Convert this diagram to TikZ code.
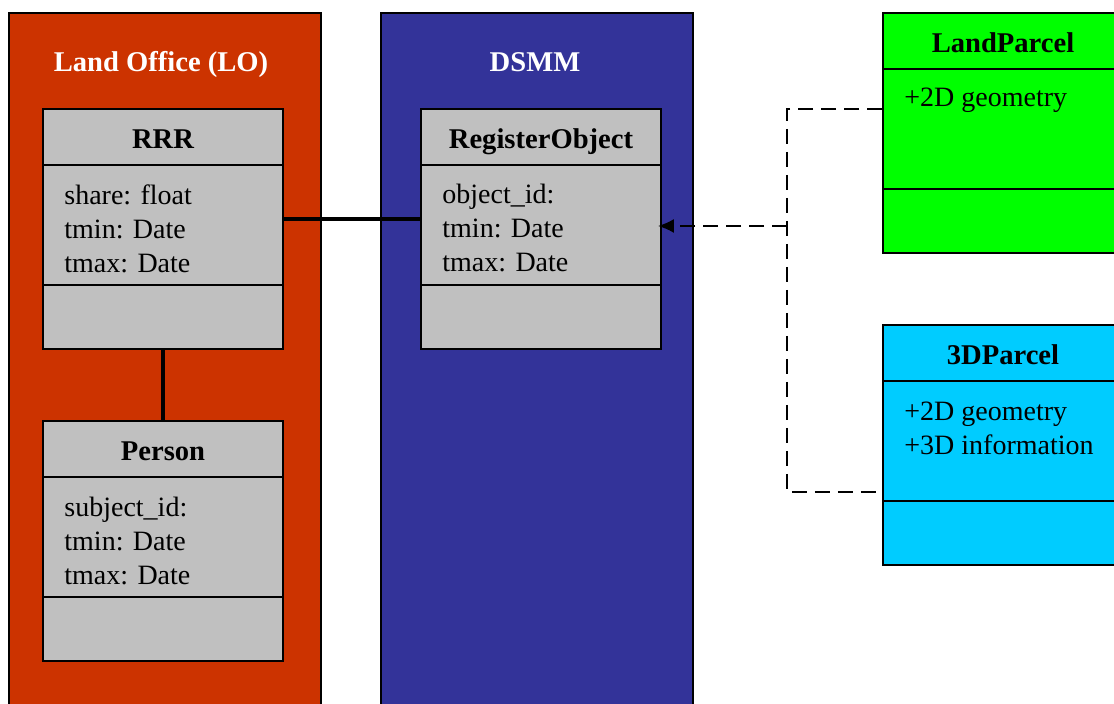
\documentclass[tikz,border=0pt]{standalone}
\usepackage{fontspec}
\setmainfont{Liberation Serif}
\usepackage{tikz}
\usetikzlibrary{arrows.meta}

\definecolor{loRed}{HTML}{CC3300}
\definecolor{dsmmBlue}{HTML}{333399}
\definecolor{umlGray}{HTML}{C0C0C0}
\definecolor{lpGreen}{HTML}{00FF00}
\definecolor{tdCyan}{HTML}{00CCFF}

\tikzset{
  pkg/.style={draw=black,line width=1pt},
  umlclass/.style={shape=rectangle,draw=black,line width=0.9pt,minimum width=120pt,minimum height=120pt,inner sep=0pt},
  cname/.style={font=\fontsize{14.3}{17}\selectfont\bfseries,inner sep=0pt,text height=0.68em,text depth=0pt,yshift=-2pt},
  attrs/.style={align=left,anchor=west,inner sep=0pt},
  assoc/.style={line width=1pt,dash pattern=on 7.5pt off 4pt},
}

\begin{document}
\begin{tikzpicture}[x=0.5pt,y=-0.5pt,font=\fontsize{14}{17}\selectfont]
\clip (0,0) rectangle (1114,704);
\fill[white] (0,0) rectangle (1114,704);
% packages
\filldraw[pkg,fill=loRed] (9,13) rectangle (321,740);
\filldraw[pkg,fill=dsmmBlue] (381,13) rectangle (693,740);
\node[cname,text=white] (lo) at (161,61) {Land Office (LO)};
\node[cname,text=white] (dsmm) at (535,61) {DSMM};

% classes
\node[umlclass,fill=umlGray] (rrr) at (163,229) {};
\node[umlclass,fill=umlGray] (person) at (163,541) {};
\node[umlclass,fill=umlGray] (regobj) at (541,229) {};
\node[umlclass,fill=lpGreen] (lp) at (1003,133) {};
\node[umlclass,fill=tdCyan] (tdp) at (1003,445) {};
\foreach \c in {rrr,person,regobj,lp,tdp}
  \draw[line width=0.9pt] ([yshift=-28.5pt]\c.north west) -- ([yshift=-28.5pt]\c.north east)
        ([yshift=-88.5pt]\c.north west) -- ([yshift=-88.5pt]\c.north east);

\node[cname] (rrrname) at (163,138) {RRR};
\node[cname] (personname) at (163,450) {Person};
\node[cname] (regobjname) at (541,138) {RegisterObject};
\node[cname] (lpname) at (1003,42) {LandParcel};
\node[cname] (tdpname) at (1003,354) {3DParcel};

\node[attrs] (rrrattr) at (64,229) {share: float\\tmin: Date\\tmax: Date};
\node[attrs] (personattr) at (64,541) {subject\_id:\\tmin: Date\\tmax: Date};
\node[attrs] (regobjattr) at (442,228) {object\_id:\\tmin: Date\\tmax: Date};
\node[attrs] (lpattr) at (904,100) {+2D geometry};
\node[attrs] (tdpattr) at (904,428) {+2D geometry\\+3D information};

% connectors
\coordinate (a1) at (300,219);
\draw[line width=1.8pt] (rrr.east |- a1) -- (regobj.west |- a1);
\draw[line width=1.8pt] (rrr.south) -- (person.north);
\coordinate (j1) at (787,109);
\coordinate (j2) at (787,492);
\coordinate (j3) at (787,226);
\draw[assoc] (lp.west |- j1) -- (j1) -- (j2) -- (tdp.west |- j2);
\draw[assoc,-{Latex[length=8pt,width=7pt]},shorten >=-2pt] (j3) -- (regobj.east |- j3);
\end{tikzpicture}
\end{document}
